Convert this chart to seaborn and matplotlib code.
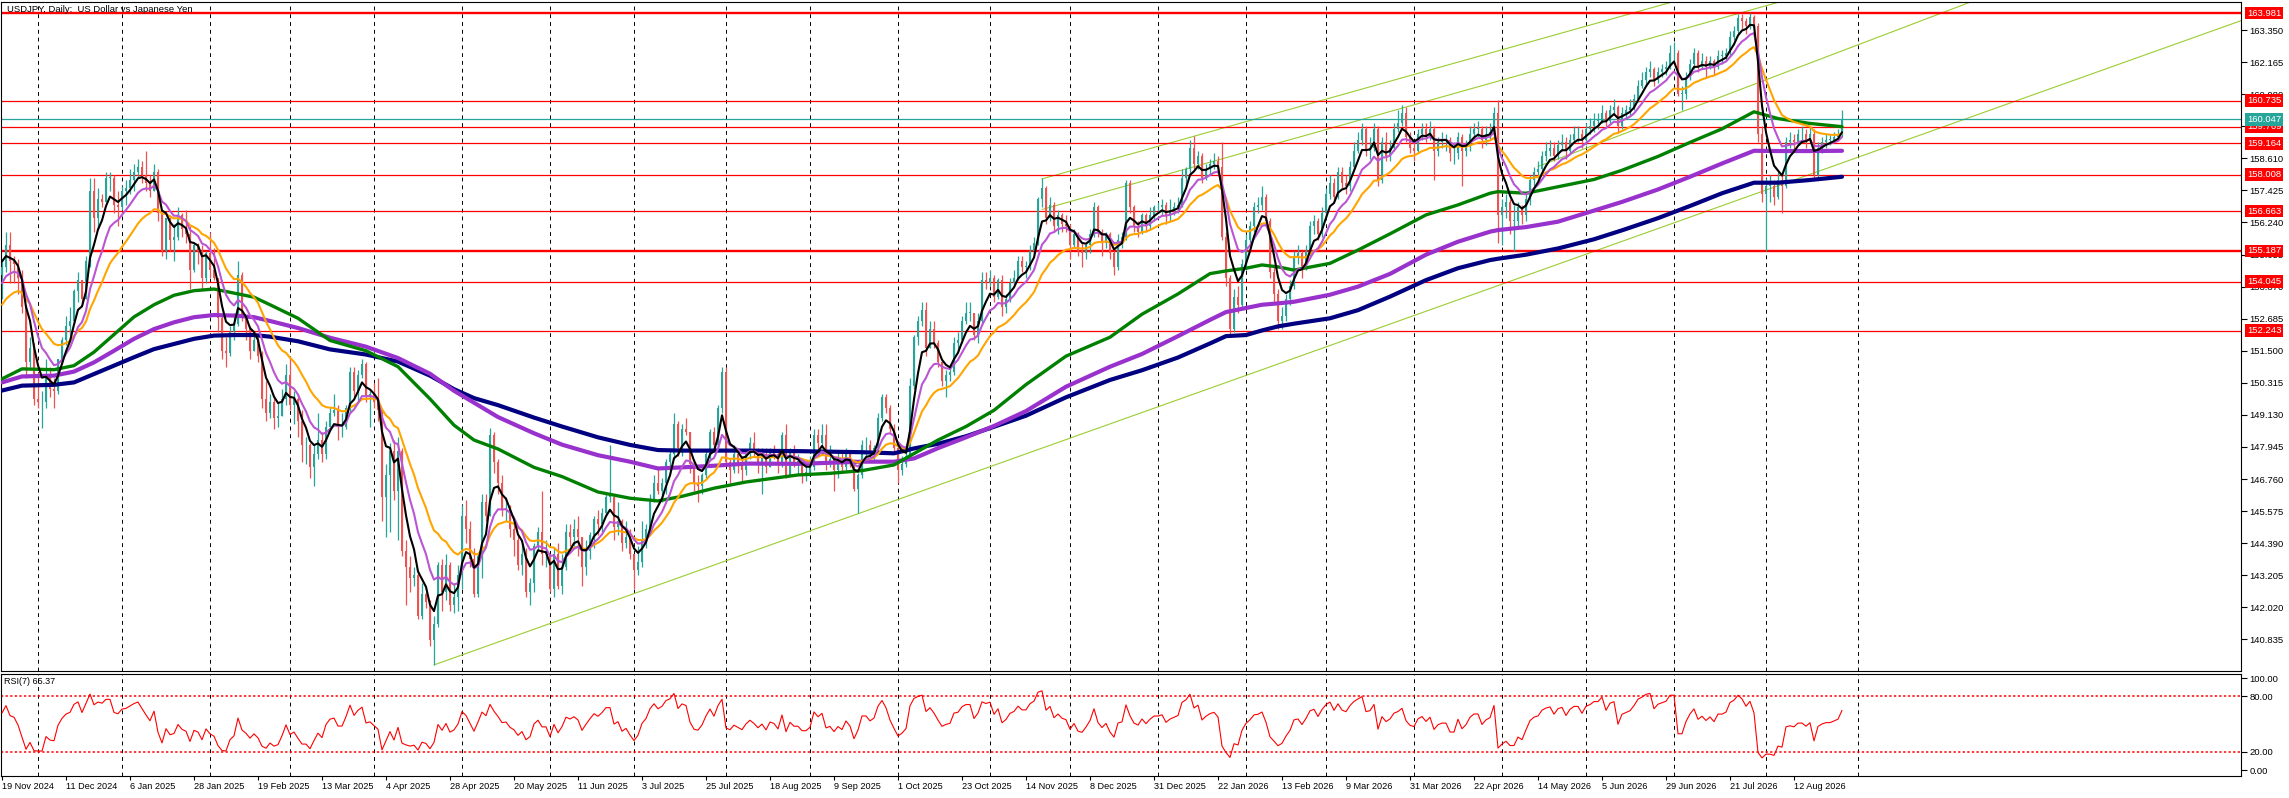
import numpy as np
import pandas as pd
import matplotlib
matplotlib.use("Agg")
import matplotlib.pyplot as plt
import seaborn as sns

# daily bars start here; the broker has no bar on these days
first_day = "2024-11-19"
closed_days = ["2024-12-25", "2025-01-01", "2025-12-25"]
first_open = 154.3

close = [
    154.6, 155.4, 154.8, 154.7, 154.2, 153.1, 151.1, 151.6, 149.7,
    149.6, 149.6, 150.6, 150.1, 150.0, 151.2, 151.9, 152.4, 152.6, 153.7, 154.1, 153.4, 154.8, 157.4, 156.4, 157.1, 157.0, 157.9, 157.9, 156.9, 156.8,
    157.4, 157.5, 157.8, 158.1, 158.3, 158.0, 157.7, 157.4, 158.1, 156.6, 155.2, 156.4, 155.6, 155.7, 156.5, 156.0, 155.8, 154.5, 155.4, 155.2, 154.2, 155.1,
    154.5, 154.2, 152.7, 151.5, 151.4, 152.2, 152.5, 154.3, 152.8, 152.3, 151.5, 151.9, 151.3, 149.7, 149.2, 149.6, 149.0, 149.1, 149.7, 150.6,
    149.5, 149.7, 148.9, 148.0, 148.0, 147.2, 147.7, 148.2, 147.7, 148.7, 149.2, 149.3, 148.7, 148.7, 149.4, 150.7, 150.0, 150.6, 151.0, 149.8, 149.9,
    149.6, 149.3, 146.1, 146.9, 147.8, 146.3, 147.8, 144.1, 143.5, 143.1, 143.2, 141.7, 142.5, 142.2, 140.8, 141.4, 143.6, 142.6, 143.6, 142.1, 142.4, 143.2,
    145.4, 144.9, 143.8, 142.5, 143.9, 145.9, 145.4, 148.4, 147.4, 146.6, 145.6, 145.7, 144.9, 144.5, 143.6, 144.0, 142.6, 142.9, 144.3, 144.8, 144.0, 144.0,
    142.7, 144.0, 142.8, 143.5, 144.8, 144.6, 144.9, 144.6, 143.5, 144.1, 144.7, 145.3, 145.1, 145.5, 146.1, 146.1, 145.0, 145.2, 144.4, 144.6, 144.0,
    143.4, 143.7, 144.5, 144.9, 145.9, 146.6, 146.3, 146.6, 147.4, 147.7, 148.8, 147.9, 148.6, 148.5, 147.3, 146.6, 146.5, 146.9, 147.7, 148.5, 148.0, 149.4, 150.7,
    147.4, 147.1, 147.7, 147.4, 147.1, 147.7, 148.1, 147.8, 147.4, 147.7, 147.2, 147.8, 147.7, 147.3, 148.4, 146.9, 147.8, 147.4, 147.4, 147.0, 147.0,
    147.2, 148.4, 148.1, 148.4, 147.4, 147.5, 147.1, 147.4, 147.2, 147.7, 147.4, 146.4, 146.9, 148.0, 148.0, 147.7, 147.9, 149.0, 149.8, 149.4, 148.6, 147.9,
    147.1, 147.3, 147.6, 150.2, 152.0, 152.6, 153.0, 151.6, 152.3, 151.8, 151.1, 150.4, 150.6, 150.7, 151.8, 151.9, 152.6, 152.9, 152.9, 152.1, 152.6, 154.1, 154.0,
    154.2, 153.5, 154.1, 153.1, 153.4, 154.0, 154.2, 154.8, 154.6, 154.6, 155.2, 155.5, 157.1, 157.5, 156.4, 156.9, 156.1, 156.5, 156.2, 156.1,
    155.4, 155.8, 155.2, 155.1, 155.4, 155.8, 156.8, 155.9, 155.5, 155.8, 155.1, 154.6, 155.6, 155.7, 157.7, 156.8, 156.1, 155.9, 156.5, 156.1, 156.5, 156.8,
    156.8, 156.9, 156.5, 156.7, 156.8, 156.9, 157.9, 158.2, 159.0, 158.4, 158.7, 157.9, 158.2, 158.4, 158.5, 158.3, 155.7, 154.2, 152.3, 153.5, 153.2, 154.7,
    155.6, 156.1, 156.8, 156.9, 157.2, 156.3, 154.4, 153.6, 152.6, 152.8, 153.4, 153.9, 155.0, 155.1, 154.6, 155.2, 156.1, 156.3, 155.8, 156.6,
    157.3, 157.7, 157.2, 158.1, 157.7, 157.6, 158.3, 158.9, 159.3, 159.7, 158.9, 159.0, 159.7, 157.8, 159.2, 158.7, 159.0, 159.7, 159.9, 160.3, 159.4, 159.0,
    158.9, 159.5, 159.7, 159.4, 159.7, 158.9, 159.2, 159.3, 159.3, 158.8, 158.8, 159.4, 158.9, 159.1, 159.5, 159.7, 159.7, 159.3, 159.5, 159.6, 160.3, 156.5,
    156.8, 157.0, 156.3, 156.3, 156.8, 156.5, 157.1, 157.8, 158.1, 158.2, 158.7, 158.9, 159.0, 158.7, 159.1, 159.2, 158.9, 159.3, 159.5, 159.5, 159.3,
    159.7, 159.8, 160.0, 160.0, 160.3, 160.0, 160.4, 160.5, 159.8, 160.3, 160.4, 160.5, 160.8, 161.3, 161.5, 161.8, 161.9, 161.5, 161.8, 161.9, 162.0, 162.5,
    162.5, 161.0, 161.0, 161.6, 162.1, 162.5, 162.0, 162.2, 162.0, 162.2, 162.0, 162.4, 162.4, 162.5, 163.1, 163.3, 163.8, 163.7, 163.5, 163.85, 163.5, 159.5, 157.3,
    157.6, 157.6, 157.2, 157.8, 157.6, 159.2, 159.3, 159.2, 159.5, 159.5, 159.3, 159.5, 158.0, 159.0, 159.2, 159.3, 159.3, 159.4, 159.5, 160.05,
]

high = [
    154.9, 155.9, 155.9, 155.0, 154.9, 154.5, 153.2, 152.0, 151.8,
    150.7, 150.0, 151.2, 150.9, 150.5, 151.2, 152.0, 152.8, 153.1, 153.8, 154.4, 154.1, 155.0, 157.9, 157.9, 157.5, 157.3, 158.1, 158.1, 158.0, 157.4,
    157.6, 157.8, 158.2, 158.4, 158.6, 158.5, 158.9, 158.0, 158.4, 158.2, 156.6, 156.4, 156.5, 156.2, 156.8, 156.6, 156.7, 156.1, 155.5, 155.5, 155.4, 155.2,
    155.9, 155.3, 154.2, 152.8, 152.0, 152.4, 152.9, 154.8, 154.4, 152.8, 152.4, 152.1, 152.0, 151.5, 150.4, 149.9, 149.8, 149.6, 150.1, 151.0,
    151.3, 150.0, 149.9, 149.3, 148.3, 148.1, 148.0, 149.2, 148.5, 148.9, 149.4, 149.9, 149.5, 149.2, 149.5, 150.9, 150.9, 150.8, 151.2, 151.1, 150.0,
    150.3, 150.5, 149.3, 147.3, 148.1, 148.2, 148.3, 147.9, 144.5, 143.9, 143.5, 143.4, 142.9, 142.6, 142.3, 141.7, 143.7, 143.8, 144.0, 143.7, 142.9, 143.6,
    145.8, 146.0, 145.2, 144.2, 144.0, 146.2, 146.2, 148.65, 148.5, 147.5, 146.9, 146.1, 145.8, 145.1, 144.7, 144.4, 144.2, 143.1, 144.4, 145.0, 146.3, 144.5,
    144.0, 144.2, 144.4, 144.0, 145.1, 145.1, 145.3, 145.4, 144.5, 144.5, 144.8, 145.4, 145.6, 145.7, 146.2, 148.0, 146.1, 145.9, 145.3, 145.2, 144.9,
    144.0, 144.3, 145.2, 145.1, 146.2, 146.9, 147.2, 146.8, 147.5, 147.8, 149.2, 148.9, 148.8, 149.0, 148.5, 147.5, 146.9, 147.0, 147.8, 148.6, 148.7, 149.5, 150.9,
    150.9, 147.5, 148.0, 147.9, 147.6, 147.8, 148.3, 148.5, 147.9, 147.9, 147.9, 147.9, 148.0, 147.8, 148.5, 148.8, 147.9, 148.0, 147.7, 147.5, 147.3,
    147.6, 148.6, 148.6, 148.8, 148.8, 148.0, 147.6, 147.8, 147.8, 147.9, 147.8, 147.5, 147.0, 148.2, 148.3, 148.2, 148.0, 149.2, 149.9, 149.9, 149.5, 148.8,
    148.0, 147.6, 147.9, 150.5, 152.1, 152.8, 153.3, 153.3, 152.6, 152.6, 151.9, 151.2, 150.8, 151.0, 152.0, 152.2, 152.8, 153.3, 153.3, 152.9, 152.9, 154.4, 154.4,
    154.5, 154.3, 154.2, 154.3, 153.6, 154.2, 154.5, 155.0, 155.0, 154.8, 155.4, 155.7, 157.2, 157.89, 157.6, 157.2, 157.0, 156.7, 156.6, 156.5,
    156.2, 156.0, 155.9, 155.5, 155.5, 156.0, 157.0, 156.9, 156.0, 155.9, 155.9, 155.2, 155.8, 155.9, 157.8, 157.8, 156.9, 156.3, 156.6, 156.6, 156.8, 156.9,
    157.0, 157.1, 157.0, 157.1, 157.0, 157.2, 158.2, 158.3, 159.3, 159.45, 158.9, 158.8, 158.4, 158.6, 158.8, 158.7, 159.2, 155.9, 154.3, 153.8, 153.9, 154.9,
    155.8, 156.3, 157.0, 157.2, 157.6, 157.3, 156.4, 154.6, 153.8, 153.1, 153.6, 154.1, 155.2, 155.4, 155.2, 155.4, 156.3, 156.5, 156.4, 156.8,
    157.5, 158.0, 157.9, 158.3, 158.3, 158.0, 158.5, 159.2, 159.6, 159.9, 159.8, 159.4, 159.9, 159.8, 159.4, 159.6, 159.3, 159.9, 160.4, 160.6, 160.5, 159.6,
    159.3, 159.7, 159.9, 159.9, 160.0, 159.8, 159.4, 159.6, 159.5, 159.4, 159.2, 159.6, 159.5, 159.3, 159.8, 159.9, 160.0, 159.8, 159.8, 159.9, 160.5, 160.75,
    157.1, 157.3, 157.1, 156.9, 157.0, 156.9, 157.3, 158.0, 158.3, 158.5, 158.9, 159.2, 159.3, 159.2, 159.3, 159.5, 159.4, 159.5, 159.8, 159.8, 159.7,
    159.9, 160.1, 160.3, 160.3, 160.6, 160.4, 160.6, 160.8, 160.6, 160.5, 160.6, 160.8, 161.0, 161.5, 161.8, 162.0, 162.2, 162.0, 162.0, 162.1, 162.2, 162.8,
    162.9, 162.6, 161.3, 161.8, 162.3, 162.7, 162.6, 162.5, 162.4, 162.4, 162.3, 162.6, 162.6, 162.7, 163.3, 163.5, 163.95, 163.95, 163.8, 163.98, 163.9, 163.6, 159.8,
    157.9, 158.0, 157.8, 158.1, 158.0, 159.4, 159.6, 159.5, 159.7, 159.8, 159.7, 159.8, 159.7, 159.2, 159.4, 159.5, 159.5, 159.6, 159.7, 160.4,
]

low = [
    153.4, 154.4, 154.0, 154.0, 153.6, 152.9, 150.5, 150.9, 149.5,
    149.4, 148.65, 149.4, 149.8, 149.4, 149.9, 151.0, 151.7, 152.1, 152.5, 153.3, 153.2, 153.4, 154.6, 155.9, 156.0, 156.8, 157.0, 157.4, 156.6, 156.1,
    156.7, 156.9, 157.3, 157.4, 157.9, 157.7, 157.4, 157.2, 157.4, 156.3, 155.0, 154.9, 155.2, 154.8, 155.6, 155.7, 155.5, 153.8, 154.4, 154.7, 153.8, 154.0,
    154.2, 154.1, 152.2, 151.2, 150.9, 151.3, 151.9, 152.4, 152.6, 151.9, 151.2, 151.5, 151.1, 149.4, 148.9, 149.0, 148.6, 148.7, 149.1, 149.5,
    149.3, 148.8, 148.3, 147.4, 147.3, 146.8, 146.5, 147.5, 147.4, 147.5, 148.6, 149.1, 148.2, 148.3, 148.6, 149.2, 149.8, 149.6, 150.5, 149.6, 148.7,
    149.4, 148.9, 145.2, 144.6, 144.8, 146.0, 144.5, 143.9, 142.1, 142.6, 142.8, 141.6, 141.6, 142.0, 140.6, 139.89, 141.3, 141.9, 142.3, 141.9, 141.8, 141.9,
    142.7, 144.4, 143.5, 142.4, 142.4, 143.1, 145.2, 145.5, 147.0, 146.2, 145.4, 145.2, 144.6, 143.9, 143.4, 143.2, 142.4, 142.1, 142.6, 144.1, 143.6, 143.5,
    142.6, 142.4, 142.7, 142.5, 143.4, 144.3, 144.3, 143.9, 142.8, 143.2, 143.8, 144.2, 144.7, 144.8, 145.4, 145.9, 144.5, 144.7, 144.1, 144.2, 143.8,
    142.7, 143.2, 143.5, 144.2, 144.7, 145.9, 146.2, 145.9, 146.2, 147.0, 147.5, 147.6, 147.6, 148.4, 147.0, 146.3, 145.9, 146.2, 146.8, 147.5, 147.8, 147.9, 149.2,
    147.3, 146.6, 147.0, 147.0, 146.7, 146.9, 147.5, 147.6, 147.0, 146.2, 147.0, 147.2, 147.5, 147.0, 147.2, 146.8, 146.9, 147.2, 146.9, 146.6, 146.7,
    146.9, 147.1, 147.8, 147.9, 147.1, 147.2, 146.3, 146.8, 147.0, 147.1, 147.2, 146.3, 145.5, 146.8, 147.6, 147.5, 147.4, 147.8, 148.9, 149.2, 148.5, 147.7,
    146.6, 146.9, 147.2, 147.6, 150.1, 151.7, 152.4, 151.3, 151.6, 151.6, 150.9, 150.2, 149.8, 150.4, 150.6, 151.5, 151.8, 152.5, 152.6, 151.9, 151.8, 152.5, 153.8,
    153.9, 153.3, 153.4, 152.8, 152.9, 153.3, 153.9, 154.1, 154.4, 154.2, 154.5, 155.0, 155.4, 156.8, 156.2, 156.3, 155.9, 155.8, 155.9, 155.9,
    154.9, 155.3, 155.0, 154.6, 154.9, 155.1, 155.7, 155.7, 155.0, 155.3, 154.9, 154.3, 154.5, 155.3, 155.6, 156.6, 155.9, 155.7, 155.8, 155.9, 156.0, 156.3,
    156.6, 156.5, 156.2, 156.3, 156.5, 156.6, 156.8, 157.6, 158.0, 158.2, 158.2, 157.7, 157.8, 158.0, 158.2, 158.1, 155.6, 153.9, 152.1, 152.2, 152.9, 153.1,
    154.5, 155.4, 155.9, 156.6, 156.7, 156.1, 154.2, 153.3, 152.3, 152.3, 152.6, 153.2, 153.8, 154.7, 154.2, 154.5, 155.0, 155.8, 155.6, 155.7,
    156.4, 157.1, 157.0, 157.1, 157.5, 157.3, 157.4, 158.2, 158.8, 159.1, 158.7, 158.6, 158.9, 157.6, 157.7, 158.5, 158.5, 158.9, 159.6, 159.8, 159.2, 158.8,
    158.5, 158.8, 159.3, 159.2, 159.3, 157.8, 158.7, 159.0, 158.9, 158.5, 158.4, 158.6, 157.6, 158.7, 158.9, 159.3, 159.4, 159.0, 159.1, 159.3, 159.5, 155.5,
    155.4, 156.4, 155.8, 155.2, 156.1, 156.2, 156.3, 156.9, 157.6, 157.9, 158.0, 158.5, 158.7, 158.5, 158.6, 158.9, 158.6, 158.8, 159.2, 159.2, 159.0,
    159.1, 159.5, 159.6, 159.7, 159.9, 159.8, 159.9, 160.2, 159.6, 159.7, 160.1, 160.2, 160.4, 160.7, 161.2, 161.3, 161.6, 161.3, 161.4, 161.6, 161.7, 161.9,
    162.2, 160.9, 160.4, 160.8, 161.5, 161.9, 161.8, 161.9, 161.6, 161.9, 161.7, 161.9, 162.1, 162.2, 162.4, 163.0, 163.2, 163.4, 163.2, 163.4, 163.2, 159.2, 157.0,
    155.2, 157.0, 156.9, 157.1, 156.6, 157.5, 159.0, 158.9, 159.1, 159.2, 159.0, 159.2, 157.9, 157.9, 158.8, 159.0, 159.1, 159.2, 159.3, 159.4,
]

# fast moving averages (EMA) and their values at the first bar
ema_periods = [20, 10, 5]
ema_start = [153.2, 154.0, 154.8]
ema_colors = ["#ffa500", "#ba55d3", "#000000"]

# slow moving averages at these bars
slow_bars = [0, 5, 13, 18, 23, 28, 33, 38, 43, 48, 53, 58, 63, 67, 74, 82, 91, 99, 107,
             113, 118, 124, 133, 140, 149, 157, 164, 170, 178, 186, 199, 207, 215, 223,
             228, 234, 241, 248, 256, 266, 277, 285, 294, 302, 306, 311, 315, 319, 323,
             332, 339, 347, 356, 364, 372, 374, 381, 389, 398, 405, 414, 422, 430, 438,
             444, 452, 460]
ma_navy = [150.03, 150.21, 150.24, 150.33, 150.64, 150.95, 151.26, 151.56, 151.75, 151.94,
           152.06, 152.08, 152.08, 152.02, 151.85, 151.55, 151.36, 151.1, 150.58, 150.08,
           149.75, 149.49, 149.03, 148.7, 148.3, 148.02, 147.83, 147.81, 147.81, 147.81,
           147.79, 147.77, 147.75, 147.71, 147.89, 148.06, 148.34, 148.69, 149.1, 149.78,
           150.42, 150.78, 151.25, 151.77, 152.04, 152.08, 152.25, 152.4, 152.5, 152.7,
           153.0, 153.5, 154.11, 154.55, 154.85, 154.9, 155.05, 155.28, 155.62, 155.95,
           156.4, 156.85, 157.32, 157.71, 157.71, 157.81, 157.93]
ma_purple = [150.33, 150.55, 150.58, 150.73, 151.07, 151.5, 151.94, 152.3, 152.55, 152.74,
             152.82, 152.8, 152.74, 152.6, 152.34, 151.98, 151.65, 151.23, 150.65, 150.02,
             149.58, 149.05, 148.45, 148.03, 147.64, 147.4, 147.15, 147.19, 147.25, 147.33,
             147.32, 147.36, 147.4, 147.4, 147.52, 147.9, 148.3, 148.72, 149.27, 150.17,
             150.91, 151.38, 152.04, 152.64, 152.93, 153.08, 153.2, 153.25, 153.31, 153.57,
             153.87, 154.34, 155.05, 155.53, 155.9, 155.96, 156.07, 156.27, 156.68, 157.0,
             157.46, 157.93, 158.42, 158.89, 158.88, 158.88, 158.89]
ma_green = [150.46, 150.83, 150.8, 150.95, 151.45, 152.1, 152.75, 153.2, 153.55, 153.72,
            153.78, 153.63, 153.48, 153.2, 152.7, 151.88, 151.5, 150.91, 149.72, 148.75,
            148.2, 147.87, 147.19, 146.85, 146.28, 146.05, 145.95, 146.12, 146.42, 146.65,
            146.91, 146.97, 147.07, 147.28, 147.7, 148.2, 148.7, 149.3, 150.25, 151.3,
            152.0, 152.85, 153.6, 154.35, 154.45, 154.55, 154.67, 154.6, 154.48, 154.73,
            155.22, 155.82, 156.52, 156.89, 157.32, 157.38, 157.32, 157.56, 157.83, 158.17,
            158.68, 159.2, 159.7, 160.33, 160.08, 159.9, 159.78]

# horizontal levels, the two heavy ones, and the bid price
levels = [163.981, 160.735, 159.769, 159.164, 158.008, 156.663, 155.187, 154.045, 152.243]
heavy_levels = [163.981, 155.187]
bid = 160.047

# trend lines: start bar, start price, rise per bar
trend_bar = [108, 260, 260, 384]
trend_price = [139.89, 157.85, 156.72, 158.31]
trend_slope = [0.0527, 0.0415, 0.0416, 0.0562]

price_ticks = [163.350 - 1.185 * k for k in range(20)]
rsi_period = 7
rsi_start = 62.0

# ---------------------------------------------------------------
n = len(close)
c = np.array(close)
o = np.concatenate([[first_open], c[:-1]])
h = np.maximum(np.array(high), np.maximum(o, c))
lo = np.minimum(np.array(low), np.minimum(o, c))
x = np.arange(n)

days = pd.bdate_range(first_day, periods=n + 10)
days = days[~days.isin(pd.to_datetime(closed_days))][:n]
print(len(close), len(high), len(low), days[-1])

month_bars = [i for i in range(1, n) if days[i].month != days[i - 1].month]
next_month = pd.Timestamp(days[-1].year + days[-1].month // 12, days[-1].month % 12 + 1, 1)
month_bars.append(n - 1 + (next_month - days[-1]).days)


def ema(values, period, start):
    out = np.empty(len(values))
    out[0] = start
    a = 2.0 / (period + 1)
    for i in range(1, len(values)):
        out[i] = out[i - 1] + a * (values[i] - out[i - 1])
    return out


# RSI with Wilder smoothing
diff = np.diff(c)
g = rsi_start / 100 * 0.5
l = (1 - rsi_start / 100) * 0.5
rsi = [rsi_start]
for d in diff:
    g = (g * (rsi_period - 1) + max(d, 0)) / rsi_period
    l = (l * (rsi_period - 1) + max(-d, 0)) / rsi_period
    rsi.append(100 - 100 / (1 + g / l))
rsi = np.array(rsi)

sns.set_theme(style="white")
plt.rcParams["font.family"] = ["Liberation Sans", "DejaVu Sans"]
fs = 6.8

W, H = 2289, 798
fig = plt.figure(figsize=(W / 100, H / 100), dpi=100)
left, width = 1 / W, 2240 / W
ax = fig.add_axes([left, 1 - 671 / H, width, 669 / H])
axr = fig.add_axes([left, 1 - 776 / H, width, 102.4 / H], sharex=ax)

xmax = 559.75
ax.set_xlim(-0.25, xmax)
ax.set_ylim(139.665, 164.388)
axr.set_ylim(-6.5, 104.8)

for a in (ax, axr):
    a.set_facecolor("white")
    for s in a.spines.values():
        s.set_color("black")
        s.set_linewidth(0.8)
    for m in month_bars:
        a.axvline(m, color="black", lw=0.7, ls=(0, (4, 4)), zorder=1)

# levels and trend lines
for lv in levels:
    ax.axhline(lv, color="red", lw=1.7 if lv in heavy_levels else 0.9, zorder=1.8)
ax.axhline(bid, color="#26a69a", lw=0.9, zorder=1.8)
for b, p, s in zip(trend_bar, trend_price, trend_slope):
    ax.plot([b, xmax], [p, p + s * (xmax - b)], color="#9acd32", lw=0.8, zorder=1.7)

# candles
up = c >= o
cols = np.where(up, "#26a69a", "#ef5350")
ax.vlines(x, lo, h, colors=cols, lw=0.9, zorder=2.8)
ax.bar(x, np.maximum(np.abs(c - o), 0.02), bottom=np.minimum(o, c), width=0.72,
       color=cols, linewidth=0, zorder=3)

# moving averages
for vals, col, lw in [(ma_navy, "#000080", 3.0), (ma_purple, "#9932cc", 3.0), (ma_green, "#008000", 2.4)]:
    sns.lineplot(x=slow_bars, y=vals, ax=ax, color=col, linewidth=lw, zorder=4,
                 estimator=None, sort=False)
for per, st, col in zip(ema_periods, ema_start, ema_colors):
    sns.lineplot(x=x, y=ema(c, per, st), ax=ax, color=col, linewidth=1.5, zorder=5,
                 estimator=None, sort=False)

# price scale on the right
ax.yaxis.tick_right()
ax.set_yticks(price_ticks)
ax.set_yticklabels([f"{t:.3f}" for t in price_ticks])
ax.tick_params(axis="y", direction="out", length=4, width=0.8, pad=2, labelsize=fs, colors="black")
ax.tick_params(axis="x", bottom=False, labelbottom=False)
ax.set_xlabel("")
ax.set_ylabel("")


def tag(a, y, text, fc):
    a.annotate(text, xy=(1, y), xycoords=("axes fraction", "data"), xytext=(6, 0),
               textcoords="offset pixels", ha="left", va="center", fontsize=fs,
               color="white", bbox=dict(boxstyle="square,pad=0.2", fc=fc, ec="none"),
               annotation_clip=False, zorder=20)


for lv in levels:
    tag(ax, lv, f"{lv:.3f}", "red")
tag(ax, bid, f"{bid:.3f}", "#26a69a")

ax.text(0.0025, 0.9955, "USDJPY, Daily:  US Dollar vs Japanese Yen", transform=ax.transAxes,
        ha="left", va="top", fontsize=fs, color="black", zorder=21)

# RSI panel
sns.lineplot(x=x, y=rsi, ax=axr, color="red", linewidth=0.8, zorder=4, estimator=None, sort=False)
for lv in (80, 20):
    axr.axhline(lv, color="red", lw=1.1, ls=(0, (1.5, 1.5)), zorder=2)
axr.yaxis.tick_right()
axr.set_yticks([0, 20, 80, 100])
axr.set_yticklabels(["0.00", "20.00", "80.00", "100.00"])
axr.tick_params(axis="y", direction="out", length=4, width=0.8, pad=2, labelsize=fs, colors="black")
axr.text(0.0015, 0.97, "RSI(7) 65.37", transform=axr.transAxes, ha="left", va="top",
         fontsize=fs - 0.3, color="black")

label_bars = list(range(0, n, 16))
axr.set_xticks(label_bars)
axr.set_xticklabels([f"{days[i].day} {days[i]:%b %Y}" for i in label_bars], ha="left")
axr.tick_params(axis="x", direction="out", length=3, width=0.8, pad=1, labelsize=fs - 0.2,
                colors="black", bottom=True)
axr.set_xlabel("")
axr.set_ylabel("")

fig.savefig("out.png", dpi=100, facecolor="white")
